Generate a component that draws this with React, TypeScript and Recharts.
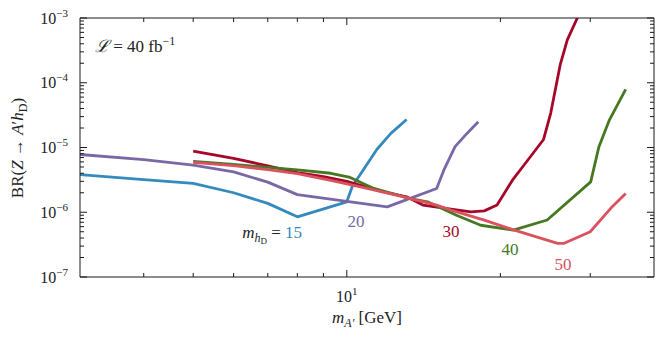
import React from 'react';
import { LineChart, Line, XAxis, YAxis } from 'recharts';

// m_A' [GeV] and BR(Z -> A' h_D), one pair of arrays per m_hD curve
const mA15 = [3, 4, 5, 6, 7, 8, 10, 10.25, 11.45, 12.2, 13.1];
const br15 = [3.8e-6, 3.2e-6, 2.8e-6, 2.0e-6, 1.37e-6, 8.5e-7, 1.45e-6, 2.5e-6, 9.3e-6, 1.65e-5, 2.7e-5];

const mA20 = [3, 4, 5, 6, 7, 8, 12, 15, 15.5, 16.3, 17.2, 18.1];
const br20 = [7.8e-6, 6.5e-6, 5.35e-6, 4.2e-6, 2.92e-6, 1.87e-6, 1.21e-6, 2.33e-6, 4.5e-6, 1.03e-5, 1.65e-5, 2.5e-5];

const mA30 = [5, 6, 7, 8, 9, 10, 11.8, 13.1, 14.1, 16, 17.5, 18.6, 19.7, 21.1, 22.1, 24.3, 25.1, 25.6, 26.2, 27.05, 28.3, 29];
const br30 = [8.8e-6, 6.8e-6, 5.2e-6, 4.1e-6, 3.55e-6, 3.0e-6, 2.07e-6, 1.73e-6, 1.29e-6, 1.12e-6, 1.01e-6, 1.05e-6, 1.29e-6, 3.1e-6, 5.0e-6, 1.33e-5, 3.4e-5, 7.5e-5, 1.9e-4, 4.6e-4, 1.0e-3, 1.6e-3];

const mA40 = [5, 6, 8, 9.3, 10.1, 11.3, 13.3, 14.4, 16.4, 18.3, 21.2, 24.7, 30.06, 31.2, 32.7, 35.2];
const br40 = [6.1e-6, 5.5e-6, 4.5e-6, 4.0e-6, 3.5e-6, 2.33e-6, 1.63e-6, 1.45e-6, 9.0e-7, 6.3e-7, 5.3e-7, 7.6e-7, 2.95e-6, 1.03e-5, 2.65e-5, 7.9e-5];

const mA50 = [5, 6, 7, 8, 9.3, 10.8, 12.5, 15, 16, 18.6, 21.3, 25.9, 26.6, 30, 32.9, 35.2];
const br50 = [5.9e-6, 5.25e-6, 4.55e-6, 3.96e-6, 3.1e-6, 2.4e-6, 1.84e-6, 1.29e-6, 1.08e-6, 7.55e-7, 5.3e-7, 3.3e-7, 3.3e-7, 5.0e-7, 1.15e-6, 1.95e-6];

// tick values
const X_TICKS = [4, 5, 6, 7, 8, 9, 10, 20, 30];
const Y_DECADES = [-7, -6, -5, -4, -3];
const Y_MINOR = [2, 3, 4, 5, 6, 7, 8, 9];

const Y_TICKS: number[] = [];
Y_DECADES.forEach((d) => {
  Y_TICKS.push(Math.pow(10, d));
  if (d < -3) Y_MINOR.forEach((m) => Y_TICKS.push(m * Math.pow(10, d)));
});

const FONT = "'Liberation Serif', 'DejaVu Serif', serif";
const AXIS = '#1a1a1a';
const MAJOR = 7;
const MINOR = 4;

const COLORS = {
  c15: '#348ABD',
  c20: '#7A68A6',
  c30: '#A60628',
  c40: '#467821',
  c50: '#DA5160',
};

const toRows = (xs: number[], ys: number[]) => xs.map((x, i) => ({ x, y: ys[i] }));

const SERIES = [
  { key: '15', rows: toRows(mA15, br15), color: COLORS.c15 },
  { key: '20', rows: toRows(mA20, br20), color: COLORS.c20 },
  { key: '30', rows: toRows(mA30, br30), color: COLORS.c30 },
  { key: '40', rows: toRows(mA40, br40), color: COLORS.c40 },
  { key: '50', rows: toRows(mA50, br50), color: COLORS.c50 },
];

const isDecade = (v: number) => Math.abs(Math.log10(v) - Math.round(Math.log10(v))) < 1e-6;

// ticks point into the plot, like the matplotlib figure
const BottomTick = (props: any) => {
  const { x, y, payload } = props;
  const v = payload.value;
  const major = isDecade(v);
  return (
    <g>
      <line x1={x} y1={y} x2={x} y2={y - (major ? MAJOR : MINOR)} stroke={AXIS} strokeWidth={1} />
      {major && (
        <text x={x} y={y + 25} textAnchor="middle" fontFamily={FONT} fontSize={16} fill="#222">
          10<tspan dy={-7} fontSize={11}>{Math.round(Math.log10(v))}</tspan>
        </text>
      )}
    </g>
  );
};

const TopTick = (props: any) => {
  const { x, y, payload } = props;
  const major = isDecade(payload.value);
  return <line x1={x} y1={y} x2={x} y2={y + (major ? MAJOR : MINOR)} stroke={AXIS} strokeWidth={1} />;
};

const LeftTick = (props: any) => {
  const { x, y, payload } = props;
  const v = payload.value;
  const major = isDecade(v);
  return (
    <g>
      <line x1={x} y1={y} x2={x + (major ? MAJOR : MINOR)} y2={y} stroke={AXIS} strokeWidth={1} />
      {major && (
        <text x={x - 12} y={y + 5.5} textAnchor="end" fontFamily={FONT} fontSize={16} fill="#222">
          10<tspan dy={-7} fontSize={11}>{'\u2212' + Math.abs(Math.round(Math.log10(v)))}</tspan>
        </text>
      )}
    </g>
  );
};

const RightTick = (props: any) => {
  const { x, y, payload } = props;
  const major = isDecade(payload.value);
  return <line x1={x} y1={y} x2={x - (major ? MAJOR : MINOR)} y2={y} stroke={AXIS} strokeWidth={1} />;
};

const App: React.FC = () => {
  return (
    <div style={{ position: 'absolute', left: 0, top: 0, width: 665, height: 340, background: '#fff' }}>
      <LineChart width={665} height={340} margin={{ top: 17, right: 10, bottom: 0, left: 0 }}>
        <XAxis
          type="number"
          dataKey="x"
          scale="log"
          domain={[3, 40]}
          allowDataOverflow
          ticks={X_TICKS}
          interval={0}
          tickSize={0}
          tickMargin={0}
          tickLine={false}
          tick={<BottomTick />}
          axisLine={{ stroke: AXIS, strokeWidth: 1 }}
          height={63}
        />
        <XAxis
          xAxisId="top"
          orientation="top"
          type="number"
          dataKey="x"
          scale="log"
          domain={[3, 40]}
          allowDataOverflow
          ticks={X_TICKS}
          interval={0}
          tickSize={0}
          tickMargin={0}
          tickLine={false}
          tick={<TopTick />}
          axisLine={{ stroke: AXIS, strokeWidth: 1 }}
          height={1}
        />
        <YAxis
          type="number"
          scale="log"
          domain={[1e-7, 1e-3]}
          allowDataOverflow
          ticks={Y_TICKS}
          interval={0}
          tickSize={0}
          tickMargin={0}
          tickLine={false}
          tick={<LeftTick />}
          axisLine={{ stroke: AXIS, strokeWidth: 1 }}
          width={80}
        />
        <YAxis
          yAxisId="right"
          orientation="right"
          type="number"
          scale="log"
          domain={[1e-7, 1e-3]}
          allowDataOverflow
          ticks={Y_TICKS}
          interval={0}
          tickSize={0}
          tickMargin={0}
          tickLine={false}
          tick={<RightTick />}
          axisLine={{ stroke: AXIS, strokeWidth: 1 }}
          width={1}
        />
        {SERIES.map((s) => (
          <Line
            key={s.key}
            data={s.rows}
            dataKey="y"
            type="linear"
            stroke={s.color}
            strokeWidth={2.8}
            strokeLinejoin="round"
            dot={false}
            activeDot={false}
            isAnimationActive={false}
          />
        ))}
      </LineChart>

      <svg
        width={665}
        height={340}
        style={{ position: 'absolute', left: 0, top: 0, pointerEvents: 'none' }}
        fontFamily={FONT}
      >
        <text x={95} y={52} fontSize={17} fill="#222">
          <tspan fontStyle="italic">{'\u2112'}</tspan> = 40 fb<tspan dy={-7} fontSize={12}>{'\u22121'}</tspan>
        </text>

        <text x={367} y={323} textAnchor="middle" fontSize={17} fill="#222">
          <tspan fontStyle="italic">m</tspan>
          <tspan fontSize={12} fontStyle="italic" dy={4}>A{'\u2032'}</tspan>
          <tspan dy={-4}>{'\u00a0[GeV]'}</tspan>
        </text>

        <text transform="translate(23,148) rotate(-90)" textAnchor="middle" fontSize={17} fill="#222">
          BR(<tspan fontStyle="italic">Z</tspan> {'\u2192'} <tspan fontStyle="italic">A</tspan>{'\u2032'}
          <tspan fontStyle="italic">h</tspan>
          <tspan fontSize={12} dy={4}>D</tspan>
          <tspan dy={-4}>)</tspan>
        </text>

        <text x={302} y={238} textAnchor="end" fontSize={17} fill="#222">
          <tspan fontStyle="italic">m</tspan>
          <tspan fontSize={12} fontStyle="italic" dy={4}>h</tspan>
          <tspan fontSize={9} dy={2}>D</tspan>
          <tspan dy={-6}>{'\u00a0=\u00a0'}</tspan>
          <tspan fill={COLORS.c15}>15</tspan>
        </text>
        <text x={356} y={227} textAnchor="middle" fontSize={17} fill={COLORS.c20}>20</text>
        <text x={451} y={237} textAnchor="middle" fontSize={17} fill={COLORS.c30}>30</text>
        <text x={510} y={255} textAnchor="middle" fontSize={17} fill={COLORS.c40}>40</text>
        <text x={563} y={270} textAnchor="middle" fontSize={17} fill={COLORS.c50}>50</text>
      </svg>
    </div>
  );
};

export default App;
